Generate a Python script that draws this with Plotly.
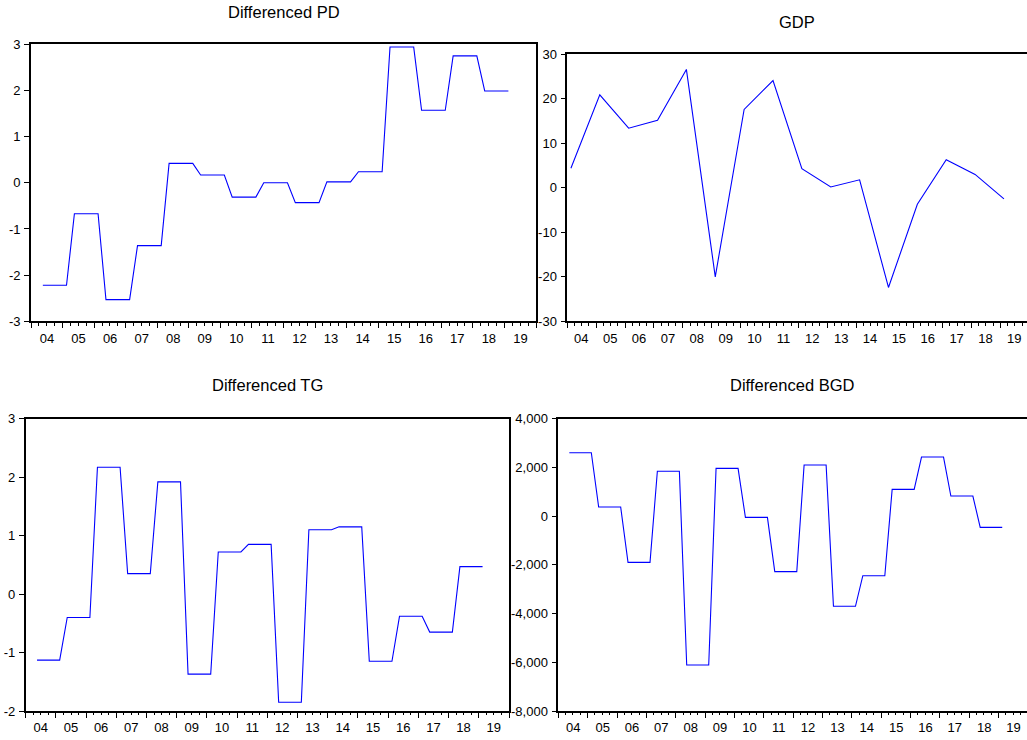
import plotly.graph_objects as go

W, H = 1027, 740

# Annual levels of the differenced series (each held for four quarters,
# from Q2 of the year to Q1 of the next)
years = ["04", "05", "06", "07", "08", "09", "10", "11", "12", "13",
         "14", "15", "16", "17", "18", "19"]

pd_levels = [-2.22, -0.67, -2.53, -1.36, 0.42, 0.17, -0.31, 0.0,
             -0.43, 0.02, 0.24, 2.94, 1.57, 2.75, 1.99]
tg_levels = [-1.13, -0.40, 2.17, 0.35, 1.92, -1.37, 0.72, 0.85,
             -1.85, 1.10, 1.15, -1.15, -0.38, -0.65, 0.47]
bgd_levels = [2605, 375, -1900, 1840, -6110, 1960, -50, -2280,
              2100, -3700, -2445, 1100, 2425, 825, -460]

# GDP, one observation per year (2004-2019)
gdp_values = [4.4, 20.9, 13.4, 15.2, 26.6, -20.0, 17.6, 24.1,
              4.3, 0.2, 1.8, -22.4, -3.7, 6.3, 3.0, -2.5]

# Y tick values and labels
pd_ticks = [-3, -2, -1, 0, 1, 2, 3]
pd_text = ["-3", "-2", "-1", "0", "1", "2", "3"]
gdp_ticks = [-30, -20, -10, 0, 10, 20, 30]
gdp_text = ["-30", "-20", "-10", "0", "10", "20", "30"]
tg_ticks = [-2, -1, 0, 1, 2, 3]
tg_text = ["-2", "-1", "0", "1", "2", "3"]
bgd_ticks = [-8000, -6000, -4000, -2000, 0, 2000, 4000]
bgd_text = ["-8,000", "-6,000", "-4,000", "-2,000", "0", "2,000", "4,000"]


def quarterly(levels):
    """Quarter-centre positions (quarters since 2004Q1) and held values."""
    xs, ys = [], []
    for i, v in enumerate(levels):
        for q in range(4):
            xs.append(4 * i + q + 1.5)
            ys.append(v)
    return xs, ys


gdp_x = [4 * i + 0.5 for i in range(len(gdp_values))]

# Panel geometry in pixels: left, right (at quarter 64 unless clipped),
# top value pixel, bottom value pixel, quarter width
panels = [
    dict(title="Differenced PD", left=31.0, right=536.0, top=44.3, bottom=321.3,
         qw=(536.0 - 31.0) / 64, ticks=pd_ticks, text=pd_text, rng=[-3, 3], ty=12),
    dict(title="GDP", left=567.3, right=1027.0, top=54.3, bottom=321.3,
         qw=28.87 / 4, ticks=gdp_ticks, text=gdp_text, rng=[-30, 30], ty=22.5),
    dict(title="Differenced TG", left=25.7, right=509.0, top=418.7, bottom=711.0,
         qw=(509.0 - 25.7) / 64, ticks=tg_ticks, text=tg_text, rng=[-2, 3], ty=384.5),
    dict(title="Differenced BGD", left=558.3, right=1027.0, top=418.7, bottom=711.0,
         qw=29.35 / 4, ticks=bgd_ticks, text=bgd_text, rng=[-8000, 4000], ty=384.5),
]

fig = go.Figure()

series = [quarterly(pd_levels), (gdp_x, gdp_values),
          quarterly(tg_levels), quarterly(bgd_levels)]

FONT = "Liberation Sans, Arial, sans-serif"
tickfont = dict(family=FONT, size=13, color="black")

year_ticks = [4 * i for i in range(17)]
year_text = years + [""]

for k, (p, (xs, ys)) in enumerate(zip(panels, series), start=1):
    xa = "x" if k == 1 else f"x{k}"
    ya = "y" if k == 1 else f"y{k}"
    fig.add_trace(go.Scatter(x=xs, y=ys, mode="lines", xaxis=xa, yaxis=ya,
                             line=dict(color="#0000FF", width=1.1),
                             showlegend=False, hoverinfo="skip"))

    xmax = (p["right"] - p["left"]) / p["qw"]
    xdom = [p["left"] / W, min(p["right"] / W, 1.0)]
    ydom = [1 - p["bottom"] / H, 1 - p["top"] / H]

    fig.layout[f"xaxis{'' if k == 1 else k}"] = dict(
        domain=xdom, range=[0, xmax], anchor=ya, automargin=False,
        tickmode="array", tickvals=year_ticks, ticktext=year_text,
        ticks="outside", ticklen=5, tickwidth=1.3, tickcolor="black",
        ticklabelshift=int(round(2 * p["qw"])), ticklabelstandoff=-1,
        tickfont=tickfont,
        minor=dict(tickmode="linear", tick0=0, dtick=1, ticks="outside",
                   ticklen=2.5, tickwidth=1, tickcolor="black", showgrid=False),
        showline=True, linecolor="black", linewidth=1.6, mirror=True,
        showgrid=False, zeroline=False, fixedrange=True,
    )
    fig.layout[f"yaxis{'' if k == 1 else k}"] = dict(
        domain=ydom, range=p["rng"], anchor=xa, automargin=False,
        tickmode="array", tickvals=p["ticks"], ticktext=p["text"],
        ticks="outside", ticklen=5, tickwidth=1.3, tickcolor="black",
        tickfont=tickfont, ticklabelstandoff=1,
        showline=True, linecolor="black", linewidth=1.6, mirror=True,
        showgrid=False, zeroline=False, fixedrange=True,
    )

    fig.add_annotation(text=p["title"], xref="paper", yref="paper",
                       x=(p["left"] + min(p["right"], 1028)) / 2 / W,
                       y=1 - p["ty"] / H, xanchor="center", yanchor="middle",
                       showarrow=False,
                       font=dict(family=FONT, size=16.5, color="black"))

fig.update_layout(template="none", width=W, height=H,
                  margin=dict(l=0, r=0, t=0, b=0, pad=0, autoexpand=False),
                  paper_bgcolor="white", plot_bgcolor="white",
                  font=dict(family=FONT, color="black"))

fig.write_html("out.html", config={"displayModeBar": False})
